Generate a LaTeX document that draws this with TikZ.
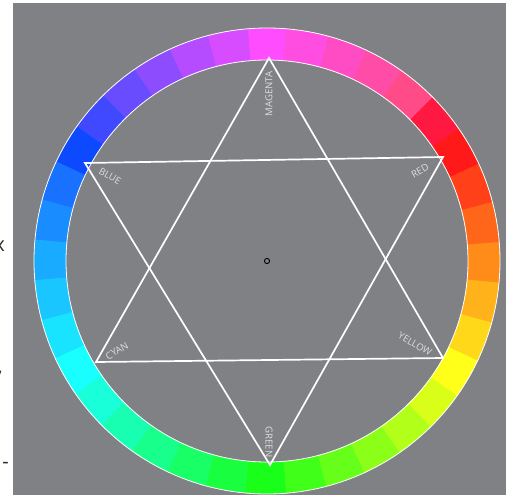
\documentclass[tikz,border=0pt]{standalone}
\usepackage{fontspec}
\setmainfont{Open Sans}
\definecolor{bg}{RGB}{128,129,132}
\definecolor{lblc}{RGB}{222,222,222}
\definecolor{fragc}{RGB}{40,40,40}
\begin{document}
\begin{tikzpicture}[x=1pt,y=-1pt,
  lbl/.style={text=lblc,font=\fontsize{9.6}{9.6}\selectfont,inner sep=0pt},
  tri/.style={draw=white,line width=1.7pt,line join=miter},
  rim/.style={draw=white,line width=0.8pt},
  frag/.style={text=fragc,font=\fontsize{20}{20}\selectfont,inner sep=0pt}]
\useasboundingbox (0,0) rectangle (515,499);
\fill[bg] (13,3) rectangle (506,495);
\coordinate (O) at (267,261);
% colour ring: 36 sectors of 10 degrees
\foreach \k in {0,...,35}{
  \pgfmathtruncatemacro{\th}{mod(90+10*\k,360)}
  \pgfmathtruncatemacro{\hu}{mod(30-\th+720,360)}
  \ifnum\th>89 \ifnum\th<151
    \pgfmathtruncatemacro{\hu}{300-(\th-90)*1.25}
  \fi\fi
  \ifnum\th>150 \ifnum\th<211
    \pgfmathtruncatemacro{\hu}{225-(\th-150)*0.75}
  \fi\fi
  \def\sa{0.9}
  \ifnum\th>49 \ifnum\th<141 \def\sa{0.7}\fi\fi
  \ifnum\th=140 \def\sa{0.75}\fi
  \ifnum\th=150 \def\sa{0.95}\fi
  \definecolor{seg}{Hsb}{\hu,\sa,1}
  \pgfmathsetmacro{\a}{-\th+5.3}
  \pgfmathsetmacro{\b}{-\th-5.3}
  \fill[seg] ([shift={(O)}]\a:233) arc[start angle=\a,end angle=\b,radius=233]
    -- ([shift={(O)}]\b:201) arc[start angle=\b,end angle=\a,radius=201] -- cycle;
}
\draw[rim] (O) circle[radius=233];
\draw[rim] (O) circle[radius=201];
% hexagram vertices
\coordinate (M) at (269,58);
\coordinate (G) at (270,465);
\coordinate (B) at (85,163);
\coordinate (R) at (443,157);
\coordinate (C) at (96,362);
\coordinate (Y) at (443,358);
\draw[tri] (M) -- (C) -- (Y) -- cycle;
\draw[tri] (B) -- (R) -- (G) -- cycle;
% labels
\node[lbl,rotate=90] (lm) at (269,94) {MAGENTA};
\node[lbl,rotate=-90] (lg) at (269,442) {GREEN};
\node[lbl,rotate=-30] (lb) at (110,176) {BLUE};
\node[lbl,rotate=30] (lr) at (420,171) {RED};
\node[lbl,rotate=30] (lc) at (117,351) {CYAN};
\node[lbl,rotate=-30] (ly) at (415,344) {YELLOW};
% centre mark
\draw[black,line width=0.9pt] (O) circle[radius=2.6];
% cut-off text fragments in the left margin
\node[frag] (f1) at (-0.5,246) {x};
\node[frag,anchor=east] (f2) at (3,374) {,};
\node[frag,anchor=east] (f3) at (9,465) {-};
\end{tikzpicture}
\end{document}
